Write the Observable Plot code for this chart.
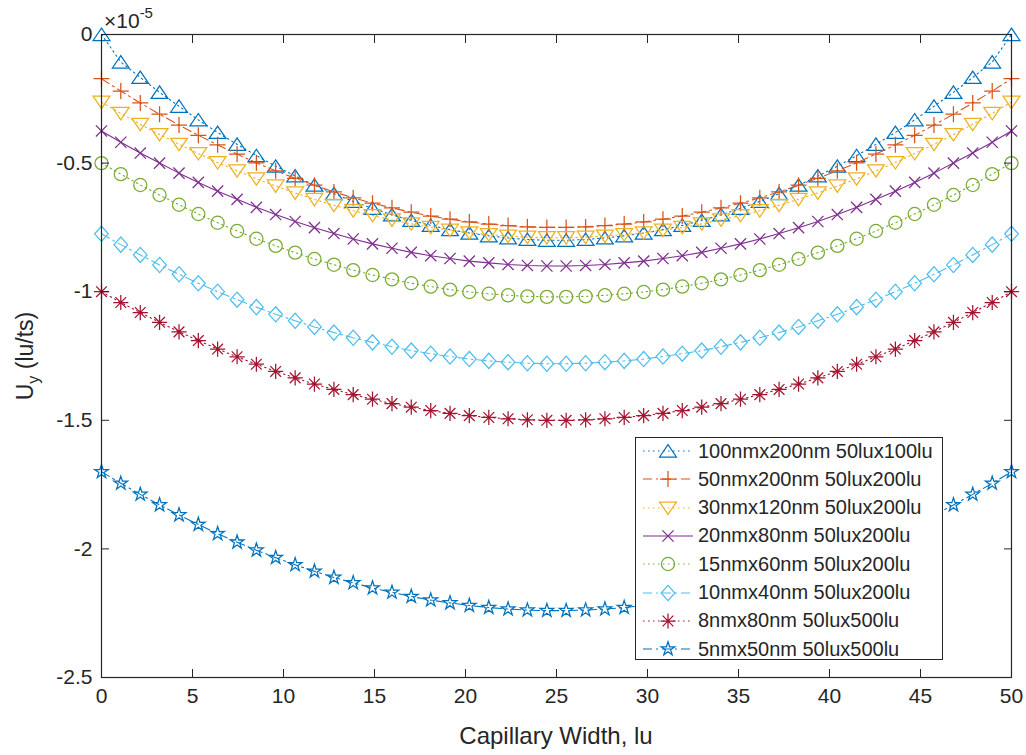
<!DOCTYPE html>
<html>
<head>
<meta charset="utf-8">
<script src="https://cdn.jsdelivr.net/npm/d3@7"></script>
<script src="https://cdn.jsdelivr.net/npm/@observablehq/plot@0.6"></script>
<style>
  html, body { margin: 0; padding: 0; background: #fff; }
  #wrap { position: relative; width: 1026px; height: 755px; font-family: "Liberation Sans", Arial, sans-serif; color: #262626; }
  #legend { position: absolute; left: 635px; top: 437px; width: 308px; height: 223px; border: 1px solid #262626; background: #fff; box-sizing: border-box; }
  .lrow { position: absolute; left: 0; height: 28px; display: flex; align-items: center; white-space: nowrap; font-size: 20px; }
  .lrow svg { display: block; }
</style>
</head>
<body>
<div id="wrap"></div>
<script>
// ---- data (values in units of 1e-5 lu/ts) ----
const xPos = [0, 1.06, 2.13, 3.19, 4.26, 5.32, 6.38, 7.45, 8.51, 9.57, 10.64, 11.70, 12.77, 13.83, 14.89, 15.96, 17.02, 18.09, 19.15, 20.21, 21.28, 22.34, 23.40, 24.47,
              25.53, 26.60, 27.66, 28.72, 29.79, 30.85, 31.91, 32.98, 34.04, 35.11, 36.17, 37.23, 38.30, 39.36, 40.43, 41.49, 42.55, 43.62, 44.68, 45.74, 46.81, 47.87, 48.94, 50];

const u100x200 = [0, -0.107, -0.167, -0.225, -0.279, -0.332, -0.381, -0.427, -0.471, -0.512, -0.550, -0.586, -0.619, -0.649, -0.676, -0.701, -0.723, -0.742, -0.759, -0.772, -0.783, -0.791, -0.797, -0.800,
                  -0.800, -0.797, -0.791, -0.783, -0.772, -0.759, -0.742, -0.723, -0.701, -0.676, -0.649, -0.619, -0.586, -0.550, -0.512, -0.471, -0.427, -0.381, -0.332, -0.279, -0.225, -0.167, -0.107, 0];
const u50x200 = [-0.172, -0.220, -0.266, -0.310, -0.352, -0.392, -0.429, -0.465, -0.499, -0.530, -0.559, -0.586, -0.612, -0.635, -0.656, -0.674, -0.691, -0.706, -0.718, -0.729, -0.737, -0.743, -0.748, -0.750,
                 -0.750, -0.748, -0.743, -0.737, -0.729, -0.718, -0.706, -0.691, -0.674, -0.656, -0.635, -0.612, -0.586, -0.559, -0.530, -0.499, -0.465, -0.429, -0.392, -0.352, -0.310, -0.266, -0.220, -0.172];
const u30x120 = [-0.263, -0.307, -0.349, -0.389, -0.427, -0.463, -0.498, -0.530, -0.561, -0.589, -0.616, -0.641, -0.664, -0.685, -0.704, -0.721, -0.736, -0.750, -0.761, -0.771, -0.778, -0.784, -0.788, -0.790,
                 -0.790, -0.788, -0.784, -0.778, -0.771, -0.761, -0.750, -0.736, -0.721, -0.704, -0.685, -0.664, -0.641, -0.616, -0.589, -0.561, -0.530, -0.498, -0.463, -0.427, -0.389, -0.349, -0.307, -0.263];
const u20x80 = [-0.375, -0.419, -0.461, -0.500, -0.539, -0.575, -0.609, -0.641, -0.672, -0.700, -0.727, -0.751, -0.774, -0.795, -0.814, -0.831, -0.847, -0.860, -0.871, -0.881, -0.888, -0.894, -0.898, -0.900,
                -0.900, -0.898, -0.894, -0.888, -0.881, -0.871, -0.860, -0.847, -0.831, -0.814, -0.795, -0.774, -0.751, -0.727, -0.700, -0.672, -0.641, -0.609, -0.575, -0.539, -0.500, -0.461, -0.419, -0.375];
const u15x60 = [-0.500, -0.543, -0.585, -0.624, -0.662, -0.698, -0.732, -0.764, -0.794, -0.822, -0.848, -0.873, -0.895, -0.916, -0.935, -0.952, -0.967, -0.980, -0.992, -1.001, -1.008, -1.014, -1.018, -1.020,
                -1.020, -1.018, -1.014, -1.008, -1.001, -0.992, -0.980, -0.967, -0.952, -0.935, -0.916, -0.895, -0.873, -0.848, -0.822, -0.794, -0.764, -0.732, -0.698, -0.662, -0.624, -0.585, -0.543, -0.500];
const u10x40 = [-0.775, -0.817, -0.857, -0.896, -0.932, -0.967, -1.000, -1.031, -1.060, -1.088, -1.113, -1.137, -1.159, -1.179, -1.197, -1.214, -1.229, -1.241, -1.252, -1.262, -1.269, -1.274, -1.278, -1.280,
                -1.280, -1.278, -1.274, -1.269, -1.262, -1.252, -1.241, -1.229, -1.214, -1.197, -1.179, -1.159, -1.137, -1.113, -1.088, -1.060, -1.031, -1.000, -0.967, -0.932, -0.896, -0.857, -0.817, -0.775];
const u8x80 = [-1.000, -1.042, -1.081, -1.119, -1.156, -1.190, -1.223, -1.253, -1.282, -1.310, -1.335, -1.359, -1.380, -1.400, -1.418, -1.435, -1.449, -1.462, -1.473, -1.482, -1.489, -1.494, -1.498, -1.500,
               -1.500, -1.498, -1.494, -1.489, -1.482, -1.473, -1.462, -1.449, -1.435, -1.418, -1.400, -1.380, -1.359, -1.335, -1.310, -1.282, -1.253, -1.223, -1.190, -1.156, -1.119, -1.081, -1.042, -1.000];
const u5x50 = [-1.700, -1.745, -1.788, -1.829, -1.868, -1.905, -1.941, -1.974, -2.005, -2.034, -2.062, -2.087, -2.111, -2.132, -2.152, -2.169, -2.185, -2.199, -2.210, -2.220, -2.228, -2.234, -2.238, -2.240,
               -2.240, -2.238, -2.234, -2.228, -2.220, -2.210, -2.199, -2.185, -2.169, -2.152, -2.132, -2.111, -2.087, -2.062, -2.034, -2.005, -1.974, -1.941, -1.905, -1.868, -1.829, -1.788, -1.745, -1.700];

const seriesNames = ["100nmx200nm 50lux100lu", "50nmx200nm 50lux200lu", "30nmx120nm 50lux200lu", "20nmx80nm 50lux200lu",
                     "15nmx60nm 50lux200lu", "10nmx40nm 50lux200lu", "8nmx80nm 50lux500lu", "5nmx50nm 50lux500lu"];
const seriesValues = [u100x200, u50x200, u30x120, u20x80, u15x60, u10x40, u8x80, u5x50];
const seriesColors = ["#0072BD", "#D95319", "#EDB120", "#7E2F8E", "#77AC30", "#4DBEEE", "#A2142F", "#0072BD"];
const seriesDash = ["1.5,3.5", "9,4,2,4", "1.5,3.5", null, "1.5,3.5", "9,4,2,4", "1.5,3.5", "9,4,2,4"];
const seriesMarkers = ["triangleUp", "plus", "triangleDown", "times", "circle", "diamond", "asterisk", "star"];

const xTicks = [0, 5, 10, 15, 20, 25, 30, 35, 40, 45, 50];
const yTicks = [0, -0.5, -1, -1.5, -2, -2.5];
const yTickLabels = ["0", "-0.5", "-1", "-1.5", "-2", "-2.5"];

// ---- MATLAB-like marker shapes ----
function makeSym(fn) { return { draw(c, size) { const r = Math.sqrt(size / Math.PI); fn(c, r); } }; }
const symbols = {
  triangleUp: makeSym((c, r) => { c.moveTo(0, -0.8 * r); c.lineTo(1.05 * r, 0.75 * r); c.lineTo(-1.05 * r, 0.75 * r); c.closePath(); }),
  triangleDown: makeSym((c, r) => { c.moveTo(0, 0.8 * r); c.lineTo(1.05 * r, -0.75 * r); c.lineTo(-1.05 * r, -0.75 * r); c.closePath(); }),
  plus: makeSym((c, r) => { c.moveTo(-r, 0); c.lineTo(r, 0); c.moveTo(0, -r); c.lineTo(0, r); }),
  times: makeSym((c, r) => { const a = 0.7 * r; c.moveTo(-a, -a); c.lineTo(a, a); c.moveTo(-a, a); c.lineTo(a, -a); }),
  circle: makeSym((c, r) => { const a = 0.82 * r; c.moveTo(a, 0); c.arc(0, 0, a, 0, 2 * Math.PI); }),
  diamond: makeSym((c, r) => { const a = 0.95 * r; c.moveTo(0, -a); c.lineTo(a * 0.9, 0); c.lineTo(0, a); c.lineTo(-a * 0.9, 0); c.closePath(); }),
  asterisk: makeSym((c, r) => { const a = 0.95 * r, b = 0.67 * r; c.moveTo(-a, 0); c.lineTo(a, 0); c.moveTo(0, -a); c.lineTo(0, a); c.moveTo(-b, -b); c.lineTo(b, b); c.moveTo(-b, b); c.lineTo(b, -b); }),
  star: makeSym((c, r) => {
    const ro = 0.9 * r, ri = 0.38 * ro;
    for (let k = 0; k < 10; k++) {
      const ang = -Math.PI / 2 + k * Math.PI / 5, rr = k % 2 ? ri : ro;
      const px = rr * Math.cos(ang), py = rr * Math.sin(ang);
      if (k === 0) c.moveTo(px, py); else c.lineTo(px, py);
    }
    c.closePath();
  })
};
const markerR = 8;

// ---- build marks ----
const marks = [];
seriesValues.forEach((vals, k) => {
  const rows = xPos.map((x, i) => ({ x, y: vals[i] }));
  marks.push(Plot.line(rows, { x: "x", y: "y", stroke: seriesColors[k], strokeWidth: 1.1, strokeDasharray: seriesDash[k] }));
  marks.push(Plot.dot(rows, { x: "x", y: "y", symbol: symbols[seriesMarkers[k]], r: markerR, stroke: seriesColors[k], fill: "none", strokeWidth: 1.25 }));
});

const axisColor = "#262626";
marks.push(
  Plot.frame({ stroke: axisColor, strokeWidth: 1.2 }),
  Plot.axisX({ ticks: xTicks, tickSize: -8, tickPadding: 19, tickFormat: d => String(d), label: null, fontSize: 21, stroke: axisColor, fill: axisColor }),
  Plot.axisX({ anchor: "top", ticks: xTicks, tickSize: -8, tickFormat: () => "", label: null, stroke: axisColor }),
  Plot.axisY({ ticks: yTicks, tickSize: -8, tickPadding: 17, tickFormat: d => yTickLabels[yTicks.indexOf(d)], label: null, fontSize: 21, stroke: axisColor, fill: axisColor }),
  Plot.axisY({ anchor: "right", ticks: yTicks, tickSize: -8, tickFormat: () => "", label: null, stroke: axisColor })
);

const chart = Plot.plot({
  width: 1026,
  height: 755,
  marginLeft: 101,
  marginRight: 15,
  marginTop: 34,
  marginBottom: 78,
  x: { domain: [0, 50], label: null },
  y: { domain: [-2.5, 0], label: null },
  style: { fontFamily: "'Liberation Sans', Arial, sans-serif", background: "#fff", color: axisColor, overflow: "visible" },
  marks
});

const wrap = document.getElementById("wrap");
wrap.appendChild(chart);

// ---- titles (SVG text for sub/superscripts) ----
const svg = d3.select(chart);
svg.append("text").attr("x", 556).attr("y", 744).attr("text-anchor", "middle")
  .attr("font-size", 24).attr("fill", axisColor).text("Capillary Width, lu");
const yl = svg.append("text").attr("transform", "translate(33,356) rotate(-90)").attr("text-anchor", "middle")
  .attr("font-size", 23).attr("fill", axisColor);
yl.append("tspan").text("U");
yl.append("tspan").attr("font-size", 16).attr("dy", 6).text("y");
yl.append("tspan").attr("dy", -6).text(" (lu/ts)");
const ex = svg.append("text").attr("x", 104).attr("y", 28).attr("text-anchor", "start").attr("font-size", 21).attr("fill", axisColor);
ex.append("tspan").text("\u00d710");
ex.append("tspan").attr("font-size", 15).attr("dy", -10).text("-5");

// ---- legend ----
const legend = document.createElement("div");
legend.id = "legend";
wrap.appendChild(legend);
seriesNames.forEach((name, k) => {
  const row = document.createElement("div");
  row.className = "lrow";
  row.style.top = (-1 + 28.3 * k) + "px";
  const ns = "http://www.w3.org/2000/svg";
  const s = document.createElementNS(ns, "svg");
  s.setAttribute("width", 62); s.setAttribute("height", 28);
  const ln = document.createElementNS(ns, "line");
  ln.setAttribute("x1", 7); ln.setAttribute("x2", 57); ln.setAttribute("y1", 14); ln.setAttribute("y2", 14);
  ln.setAttribute("stroke", seriesColors[k]); ln.setAttribute("stroke-width", 1.1);
  if (seriesDash[k]) ln.setAttribute("stroke-dasharray", seriesDash[k]);
  s.appendChild(ln);
  const p = document.createElementNS(ns, "path");
  p.setAttribute("d", d3.symbol(symbols[seriesMarkers[k]], markerR * markerR * Math.PI)());
  p.setAttribute("transform", "translate(32,14)");
  p.setAttribute("fill", "none"); p.setAttribute("stroke", seriesColors[k]); p.setAttribute("stroke-width", 1.25);
  s.appendChild(p);
  row.appendChild(s);
  const tx = document.createElement("span");
  tx.textContent = name;
  row.appendChild(tx);
  legend.appendChild(row);
});
</script>
</body>
</html>
